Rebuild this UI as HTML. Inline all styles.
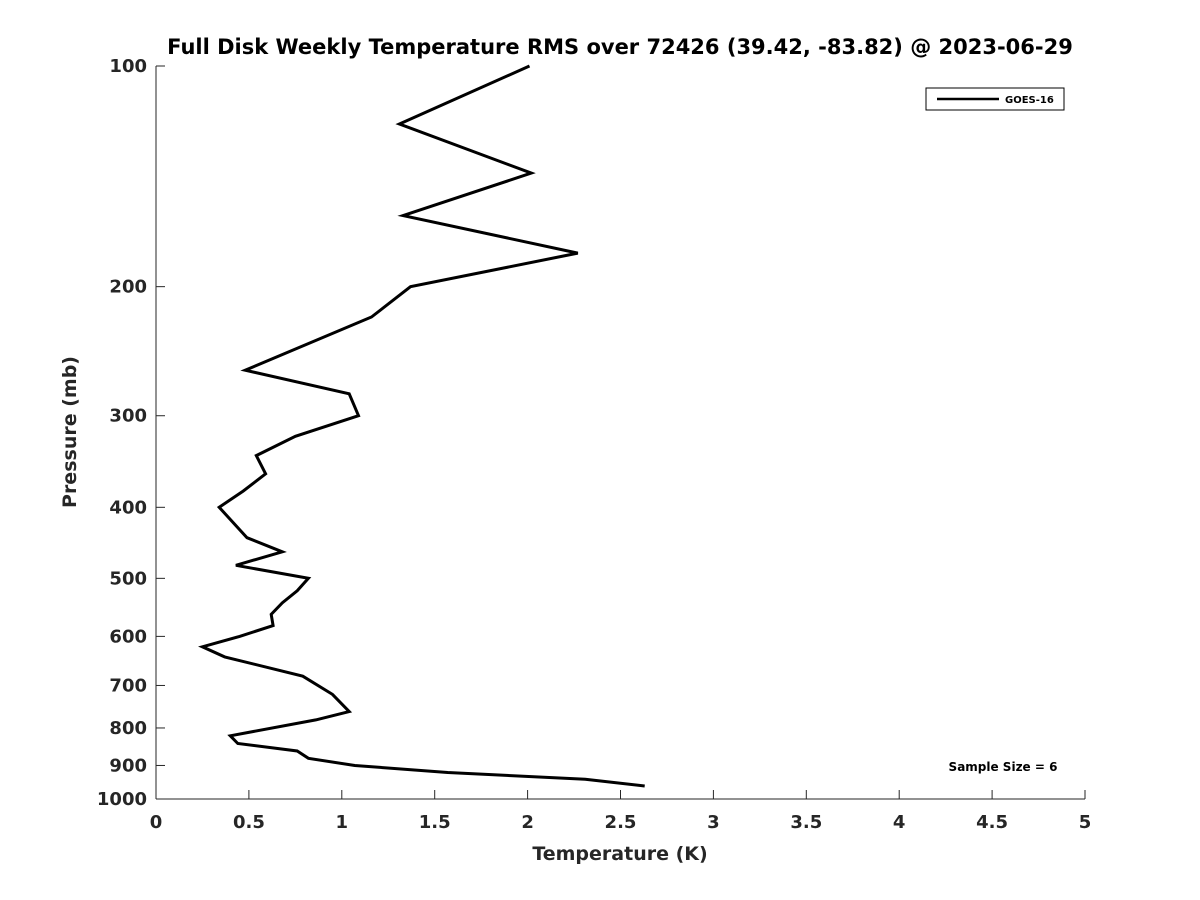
<!DOCTYPE html>
<html><head><meta charset="utf-8"><style>
body{margin:0;background:#fff;}
svg{display:block;font-family:"DejaVu Sans","Liberation Sans",sans-serif;font-weight:bold;}
</style></head><body>
<svg id="chart" width="1200" height="900" viewBox="0 0 1200 900">
<text x="620" y="54" text-anchor="middle" font-size="21" fill="#000">Full Disk Weekly Temperature RMS over 72426 (39.42, -83.82) @ 2023-06-29</text>
<g id="axes"></g>
<text x="620" y="860" text-anchor="middle" font-size="19" fill="#262626">Temperature (K)</text>
<text transform="translate(76,432) rotate(-90)" text-anchor="middle" font-size="19" fill="#262626">Pressure (mb)</text>
<g>
<rect x="926" y="88" width="138" height="22" fill="#fff" stroke="#000" stroke-width="1"/>
<line x1="937" y1="99" x2="999" y2="99" stroke="#000" stroke-width="2.5"/>
<text x="1005" y="103" font-size="10" fill="#000">GOES-16</text>
</g>
<text x="1003" y="771" text-anchor="middle" font-size="12" fill="#000">Sample Size = 6</text>
</svg>
<script>
const xTicks=[0,0.5,1,1.5,2,2.5,3,3.5,4,4.5,5];
const xTickLabels=["0","0.5","1","1.5","2","2.5","3","3.5","4","4.5","5"];
const yTicks=[100,200,300,400,500,600,700,800,900,1000];
const pressures=[100,120,140,160,180,200,220,260,280,300,320,340,360,380,400,440,460,480,500,520,540,560,580,600,620,640,680,720,760,780,820,840,860,880,900,920,940,960];
const rmsValues=[2.01,1.31,2.02,1.33,2.27,1.37,1.16,0.48,1.04,1.09,0.75,0.54,0.59,0.47,0.34,0.49,0.68,0.43,0.82,0.76,0.68,0.62,0.63,0.45,0.25,0.37,0.79,0.95,1.04,0.86,0.40,0.44,0.76,0.82,1.07,1.57,2.31,2.63];
const X0=156,X1=1085,Y0=66,Y1=799;
const xs=v=>X0+(v-0)/(5-0)*(X1-X0);
const ys=p=>Y0+(Math.log10(p)-2)/(3-2)*(Y1-Y0);
const NS="http://www.w3.org/2000/svg";
const svg=document.getElementById('chart');
const axes=document.getElementById('axes');
function mk(t,a,parent){const e=document.createElementNS(NS,t);for(const k in a)e.setAttribute(k,a[k]);(parent||axes).appendChild(e);return e;}
let e=mk('line',{x1:X0,y1:Y1,x2:X1,y2:Y1,stroke:'#262626','stroke-width':1});


e=mk('line',{x1:X0,y1:Y0,x2:X0,y2:Y1,stroke:'#262626','stroke-width':1});


xTicks.forEach((v,i)=>{
 const t=mk('line',{x1:xs(v),x2:xs(v),y1:Y1,y2:Y1-9,stroke:'#262626'});
 
 
 const l=mk('text',{x:xs(v),y:Y1+29,'text-anchor':'middle','font-size':18,fill:'#262626'});
 l.textContent=xTickLabels[i];
 
 
});
yTicks.forEach(p=>{
 const t=mk('line',{x1:X0,x2:X0+9,y1:ys(p),y2:ys(p),stroke:'#262626'});
 
 
 const l=mk('text',{x:X0-9,y:ys(p)+6,'text-anchor':'end','font-size':18,fill:'#262626'});
 l.textContent=String(p);
 
 
});
const pts=pressures.map((p,i)=>xs(rmsValues[i]).toFixed(1)+','+ys(p).toFixed(1)).join(' ');
const line=mk('polyline',{points:pts,fill:'none',stroke:'#000','stroke-width':3,'stroke-linejoin':'miter'},svg);


</script>
</body></html>
